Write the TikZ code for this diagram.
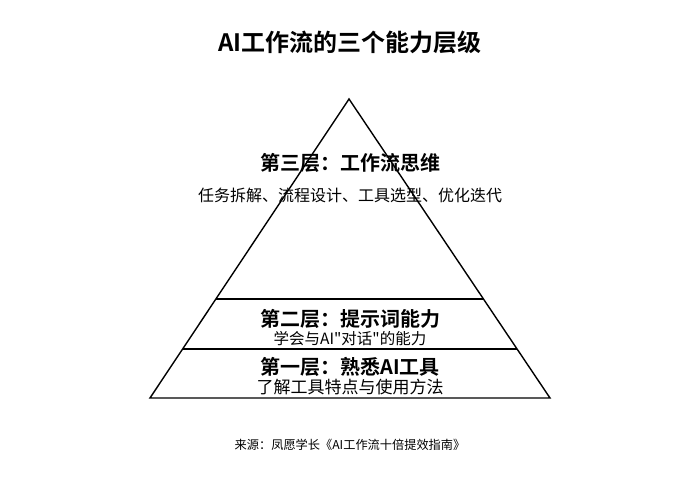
\documentclass[tikz,border=0pt]{standalone}
\usepackage{fontspec}
\newfontfamily\cjk{Noto Sans CJK SC}
\newfontfamily\cjkb{Noto Sans CJK SC Bold}
\begin{document}
\begin{tikzpicture}[x=1pt,y=-1pt,
  layertitle/.style={font=\cjkb\fontsize{20}{22}\selectfont, inner sep=0pt, anchor=center},
  layertext/.style={font=\cjk\fontsize{16}{18}\selectfont, inner sep=0pt, anchor=center},
  edge/.style={line width=1.4pt, black, line join=miter}]
\useasboundingbox (0,0) rectangle (700,500);
\fill[white] (0,0) rectangle (700,500);
\coordinate (apex) at (349,99);
\coordinate (bl) at (150,398);
\coordinate (br) at (550,398);
\coordinate (l2a) at (216.2,299);
\coordinate (l2b) at (483.5,299);
\coordinate (l1a) at (183.1,349);
\coordinate (l1b) at (516.6,349);
\draw[edge] (apex) -- (bl) -- (br) -- cycle;
\draw[edge] (l2a) -- (l2b);
\draw[edge] (l1a) -- (l1b);
\node[font=\cjkb\fontsize{24}{26}\selectfont, inner sep=0pt] (title) at (350,42) {AI工作流的三个能力层级};
\node[layertitle] (t3) at (350,163) {第三层：工作流思维};
\node[layertext] (d3) at (350,195) {任务拆解、流程设计、工具选型、优化迭代};
\node[layertitle] (t2) at (350,319) {第二层：提示词能力};
\node[layertext, font=\cjk\fontsize{15.5}{17}\selectfont] (d2) at (350,339) {学会与AI"对话"的能力};
\node[layertitle] (t1) at (350,367) {第一层：熟悉AI工具};
\node[layertext, font=\cjk\fontsize{17}{19}\selectfont] (d1) at (350,387) {了解工具特点与使用方法};
\node[font=\cjk\fontsize{12.2}{14}\selectfont, inner sep=0pt] (src) at (350,445) {来源：凤愿学长《AI工作流十倍提效指南》};
\end{tikzpicture}
\end{document}
